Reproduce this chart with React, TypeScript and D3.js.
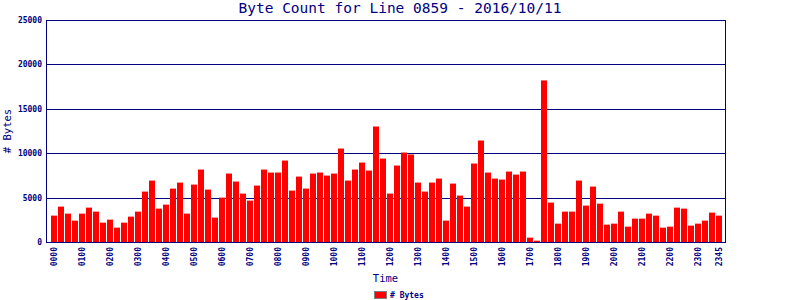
import React from "react";
import * as d3 from "d3";

const times: string[] = [];
for (let h = 0; h < 24; h++) {
  for (let m = 0; m < 60; m += 15) {
    times.push(String(h).padStart(2, "0") + String(m).padStart(2, "0"));
  }
}

const bytes: number[] = [
  2970, 3985, 3195, 2406, 3195, 3872, 3421, 2180, 2519, 1617, 2180, 2857,
  3421, 5677, 6917, 3759, 4211, 6015, 6692, 3195, 6466, 8158, 5902, 2744,
  5000, 7707, 6805, 5451, 4662, 6353, 8158, 7820, 7820, 9173, 5789, 7368,
  6015, 7707, 7820, 7481, 7707, 10526, 6917, 8158, 8947, 8045, 13008, 9398,
  5451, 8609, 10075, 9850, 6692, 5677, 6692, 7143, 2406, 6579, 5226, 3985,
  8835, 11429, 7820, 7143, 7030, 7932, 7594, 7932, 489, 150, 18195, 4436,
  2068, 3421, 3421, 6917, 4098, 6241, 4323, 1955, 2068, 3421, 1729, 2632,
  2632, 3195, 2970, 1617, 1729, 3872, 3759, 1842, 2068, 2406, 3308, 2970,
];

const yTicks: number[] = [0, 5000, 10000, 15000, 20000, 25000];
const xTickLabels: string[] = times.filter((t, i) => t.endsWith("00") || i === times.length - 1);

const title = "Byte Count for Line 0859 - 2016/10/11";
const navy = "#000080";
const mono = "'DejaVu Sans Mono', 'Liberation Mono', monospace";

export default function App() {
  const W = 800, H = 300;
  const left = 46, right = 725, top = 20, bottom = 242;
  const x = d3.scaleBand<string>().domain(times).range([50.5, 722.5]).paddingInner(1 / 7).paddingOuter(0);
  const y = d3.scaleLinear().domain([0, 25000]).range([bottom, top]);
  const bw = 6;
  const step = x.step();

  return (
    <div style={{ position: "absolute", left: 0, top: 0, margin: 0 }}>
      <svg width={W} height={H} style={{ display: "block", background: "#fff" }}>
        <rect x={0} y={0} width={W} height={H} fill="#fff" />
        {/* gridlines */}
        {yTicks.map((t) => (
          <line key={"g" + t} x1={left} x2={right} y1={Math.round(y(t)) + 0.5} y2={Math.round(y(t)) + 0.5} stroke={navy} strokeWidth={1} />
        ))}
        {/* bars */}
        {bytes.map((v, i) => {
          const x0 = 51 + (x(times[i])! - 50.5) / step * 7;
          const yt = y(v);
          return <rect key={"b" + i} x={Math.round(x0)} y={yt} width={bw} height={bottom - yt} fill="#ff0000" />;
        })}
        {/* axes frame */}
        <line x1={left + 0.5} x2={left + 0.5} y1={top} y2={bottom + 1} stroke={navy} strokeWidth={1} />
        <line x1={right + 0.5} x2={right + 0.5} y1={top} y2={bottom + 1} stroke={navy} strokeWidth={1} />
        <line x1={left} x2={right + 1} y1={bottom + 0.5} y2={bottom + 0.5} stroke={navy} strokeWidth={1} />
        {/* y tick labels */}
        {yTicks.map((t) => (
          <text key={"yl" + t} x={42} y={y(t) + 3} textAnchor="end" fontFamily={mono} fontSize={8} fontWeight="bold" fill={navy}>
            {t}
          </text>
        ))}
        {/* x tick labels */}
        {xTickLabels.map((t) => {
          const cx = Math.round(51 + (x(t)! - 50.5) / step * 7) + bw / 2;
          return (
            <text key={"xl" + t} transform={`translate(${cx + 3},247) rotate(-90)`} textAnchor="end" fontFamily={mono} fontSize={8} fontWeight="bold" fill={navy}>
              {t}
            </text>
          );
        })}
        {/* title */}
        <text x={400} y={13} textAnchor="middle" fontFamily={mono} fontSize={14.5} fill={navy}>
          {title}
        </text>
        {/* axis titles */}
        <text x={(left + right) / 2} y={282} textAnchor="middle" fontFamily={mono} fontSize={10.5} fill={navy}>
          Time
        </text>
        <text transform={`translate(11,${(top + bottom) / 2}) rotate(-90)`} textAnchor="middle" fontFamily={mono} fontSize={10.5} fill={navy}>
          # Bytes
        </text>
        {/* legend */}
        <rect x={374.5} y={291.5} width={12} height={7} fill="#ff0000" stroke="#808080" strokeWidth={1} />
        <text x={390} y={298} fontFamily={mono} fontSize={8} fontWeight="bold" fill={navy}>
          # Bytes
        </text>
      </svg>
    </div>
  );
}
